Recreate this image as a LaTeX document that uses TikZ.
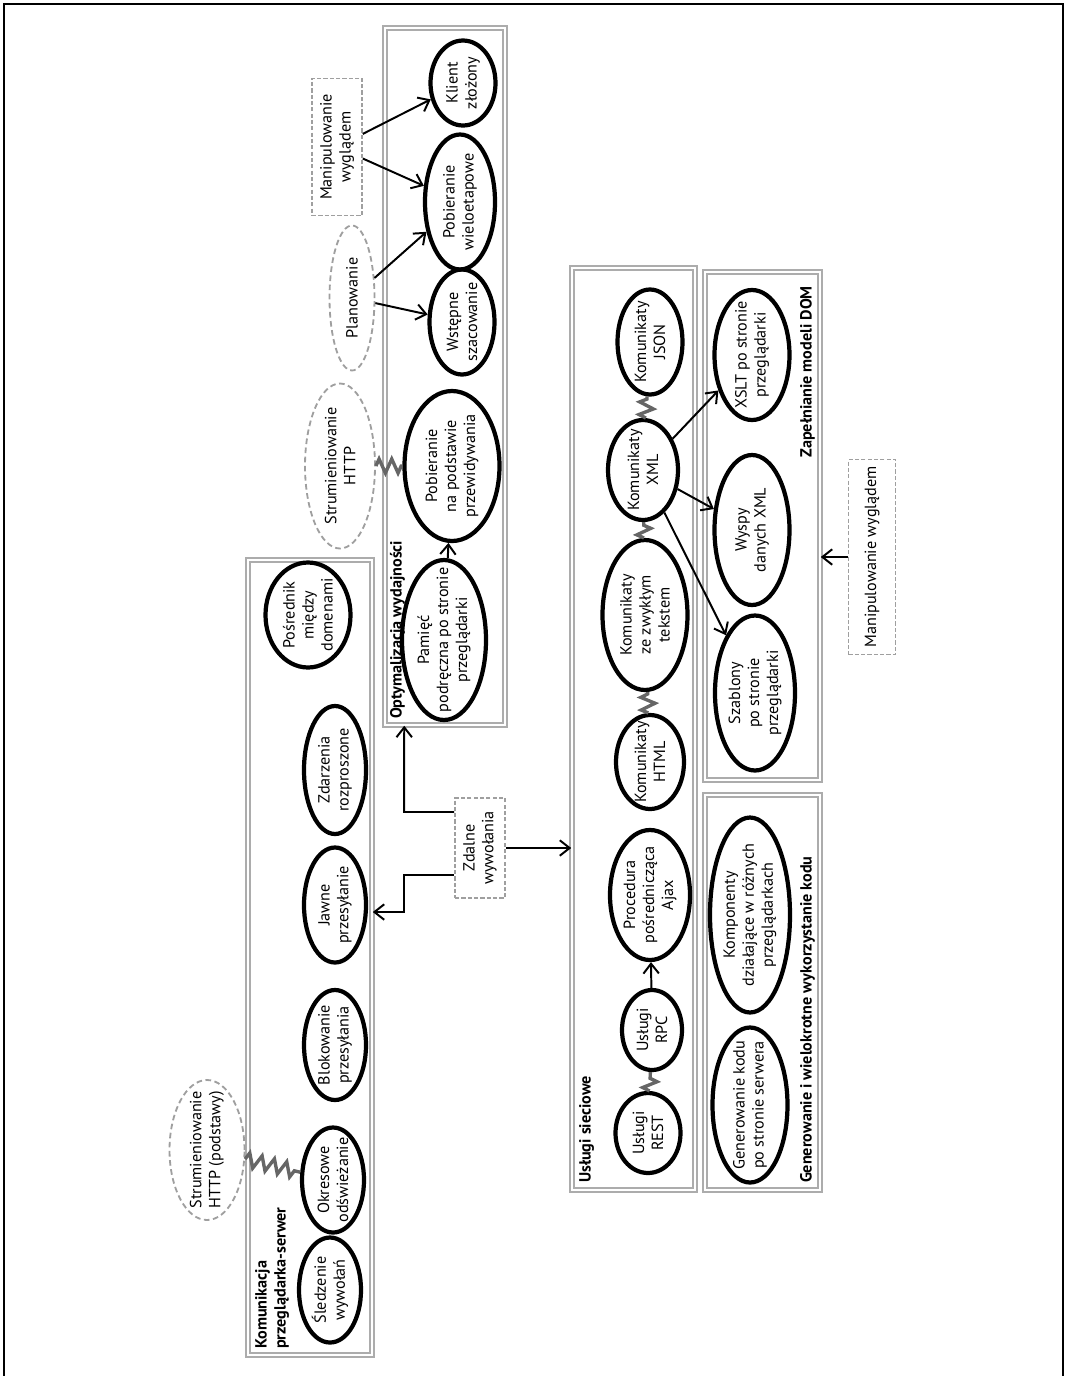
\documentclass[tikz,border=0pt]{standalone}
\usepackage{fontspec}
\setmainfont{PT Sans}
\usetikzlibrary{positioning,shapes.geometric,arrows.meta,decorations.pathmorphing}

\begin{document}
\begin{tikzpicture}[
	x=0.025cm, y=-0.025cm,
	sz/.style 2 args={minimum width=#1*0.025cm, minimum height=#2*0.025cm},
	egg/.style={ellipse, draw=black, line width=3pt, inner sep=0pt},
	idea/.style={ellipse, draw=gray!75, dash pattern=on 4pt off 2.5pt, line width=1.3pt, inner sep=0pt},
	note/.style={rectangle, draw=gray!75, dash pattern=on 3pt off 1.5pt, line width=1.1pt, inner sep=0pt},
	group/.style={rectangle, draw=gray!65, line width=1.1pt, double=white, double distance=1.5pt, inner sep=0pt},
	txt/.style={rotate=90, align=center, inner sep=0pt, font=\fontsize{11.5}{13.5}\selectfont},
	grouplabel/.style={rotate=90, align=left, inner sep=2pt, font=\fontsize{11.5}{13.5}\selectfont\bfseries},
	arrow/.style={-{Straight Barb[length=7pt, width=11pt]}, line width=1.4pt},
	zz/.style={draw=gray!80!black, line width=2.4pt, decorate, decoration={zigzag, segment length=9pt, amplitude=5pt}}
]
\useasboundingbox (0,0) rectangle (1067,1376);
\draw[line width=1.6pt] (4,1376) -- (4,4) -- (1063,4) -- (1063,1376);

% Komunikacja przeglądarka-serwer
\node[group, sz={124}{795}] (kombox) at (310,957.5) {};
\node[grouplabel, anchor=north west] (komlabel) at (252,1352) {Komunikacja\\przeglądarka-serwer};
\node[egg, sz={62}{105}, label={[txt]center:{Śledzenie\\wywołań}}] (sledz) at (330,1290) {};
\node[egg, sz={62}{105}, label={[txt]center:{Okresowe\\odświeżanie}}] (okres) at (333,1180) {};
\node[egg, sz={62}{110}, label={[txt]center:{Blokowanie\\przesyłania}}] (blok) at (335,1045) {};
\node[egg, sz={62}{115}, label={[txt]center:{Jawne\\przesyłanie}}] (jawne) at (335,905) {};
\node[egg, sz={62}{128}, label={[txt]center:{Zdarzenia\\rozproszone}}] (zdarz) at (335,770) {};
\node[egg, sz={85}{105}, label={[txt]center:{Pośrednik\\między\\domenami}}] (posr) at (308,615) {};
\node[idea, sz={75}{140}, label={[txt]center:{Strumieniowanie\\HTTP (podstawy)}}] (strpod) at (207,1150) {};
\draw[zz] (strpod) -- (okres);

% Optymalizacja wydajności
\node[group, sz={120}{697}] (optbox) at (445,376.5) {};
\node[grouplabel, anchor=north west] (optlabel) at (387,722) {Optymalizacja wydajności};
\node[egg, sz={84}{160}, label={[txt]center:{Pamięć\\podręczna po stronie\\przeglądarki}}] (pamiec) at (444,640) {};
\node[egg, sz={95}{150}, label={[txt]center:{Pobieranie\\na podstawie\\przewidywania}}] (pobprz) at (452,466) {};
\node[egg, sz={65}{105}, label={[txt]center:{Wstępne\\szacowanie}}] (wstep) at (462,322) {};
\node[egg, sz={70}{135}, label={[txt]center:{Pobieranie\\wieloetapowe}}] (pobwiel) at (460,202) {};
\node[egg, sz={65}{85}, label={[txt]center:{Klient\\złożony}}] (klient) at (463,83) {};
\node[idea, sz={70}{165}, label={[txt]center:{Strumieniowanie\\HTTP}}] (strhttp) at (340,466) {};
\node[idea, sz={45}{145}, label={[txt]center:{Planowanie}}] (plan) at (352,298) {};
\node[note, sz={50}{137}, label={[txt]center:{Manipulowanie\\wyglądem}}] (wyglad) at (337,147) {};
\draw[arrow] (pamiec) -- (pobprz);
\draw[zz] (strhttp) -- (pobprz);
\draw[arrow] (plan) -- (wstep);
\draw[arrow] (plan) -- (pobwiel);
\draw[arrow] (wyglad) -- (pobwiel);
\draw[arrow] (wyglad) -- (klient);

% Usługi sieciowe
\node[group, sz={123}{922}] (webbox) at (633.5,729) {};
\node[grouplabel, anchor=north west] (weblabel) at (576,1186) {Usługi sieciowe};
\node[egg, sz={65}{80}, label={[txt]center:{Usługi\\REST}}] (rest) at (648,1133) {};
\node[egg, sz={60}{80}, label={[txt]center:{Usługi\\RPC}}] (rpc) at (652,1030) {};
\node[egg, sz={80}{130}, label={[txt]center:{Procedura\\pośrednicząca\\Ajax}}] (proc) at (650,895) {};
\node[egg, sz={68}{94}, label={[txt]center:{Komunikaty\\HTML}}] (html) at (650,762) {};
\node[egg, sz={85}{150}, label={[txt]center:{Komunikaty\\ze zwykłym\\tekstem}}] (plain) at (645,615) {};
\node[egg, sz={70}{100}, label={[txt]center:{Komunikaty\\XML}}] (xml) at (643,470) {};
\node[egg, sz={65}{105}, label={[txt]center:{Komunikaty\\JSON}}] (json) at (650,342) {};
\draw[zz] (rest) -- (rpc);
\draw[arrow] (rpc) -- (proc);
\draw[zz] (html) -- (plain);
\draw[zz] (plain) -- (xml);
\draw[zz] (xml) -- (json);

% Zdalne wywołania
\node[note, sz={50}{100}, label={[txt]center:{Zdalne\\wywołania}}] (zdalne) at (480,848) {};
\draw[arrow] ([yshift=0.9cm]zdalne.west) -- ++(-1.25cm,0) -- ([xshift=0.5cm]optbox.south west);
\draw[arrow] ([yshift=-0.675cm]zdalne.west) -- ++(-1.25cm,0) -- ++(0,-0.925cm) coordinate (bend) -- (bend -| kombox.east);
\draw[arrow] (zdalne.east) -- (zdalne.east -| webbox.west);

% Zapełnianie modeli DOM
\node[group, sz={115}{508}] (dombox) at (762.5,526) {};
\node[grouplabel, anchor=south east] (domlabel) at (818,283) {Zapełnianie modeli DOM};
\node[egg, sz={75}{130}, label={[txt]center:{XSLT po stronie\\przeglądarki}}] (xslt) at (752,355) {};
\node[egg, sz={75}{150}, label={[txt]center:{Wyspy\\danych XML}}] (wyspy) at (752,530) {};
\node[egg, sz={80}{155}, label={[txt]center:{Szablony\\po stronie\\przeglądarki}}] (szabl) at (755,693) {};
\draw[arrow] (xml) -- (xslt);
\draw[arrow] (xml) -- (wyspy);
\draw[arrow] (xml) -- (szabl);
\node[note, sz={47}{195}, label={[txt]center:{Manipulowanie wyglądem}}] (wyglad2) at (872,557) {};
\draw[arrow] (wyglad2.west) -- (wyglad2.west -| dombox.east);

% Generowanie i wielokrotne wykorzystanie kodu
\node[group, sz={115}{395}] (genbox) at (762.5,992.5) {};
\node[grouplabel, anchor=south west] (genlabel) at (818,1186) {Generowanie i wielokrotne wykorzystanie kodu};
\node[egg, sz={75}{155}, label={[txt]center:{Generowanie kodu\\po stronie serwera}}] (genkod) at (750,1105) {};
\node[egg, sz={80}{195}, label={[txt]center:{Komponenty\\działające w różnych\\przeglądarkach}}] (komp) at (750,915) {};
\end{tikzpicture}
\end{document}
